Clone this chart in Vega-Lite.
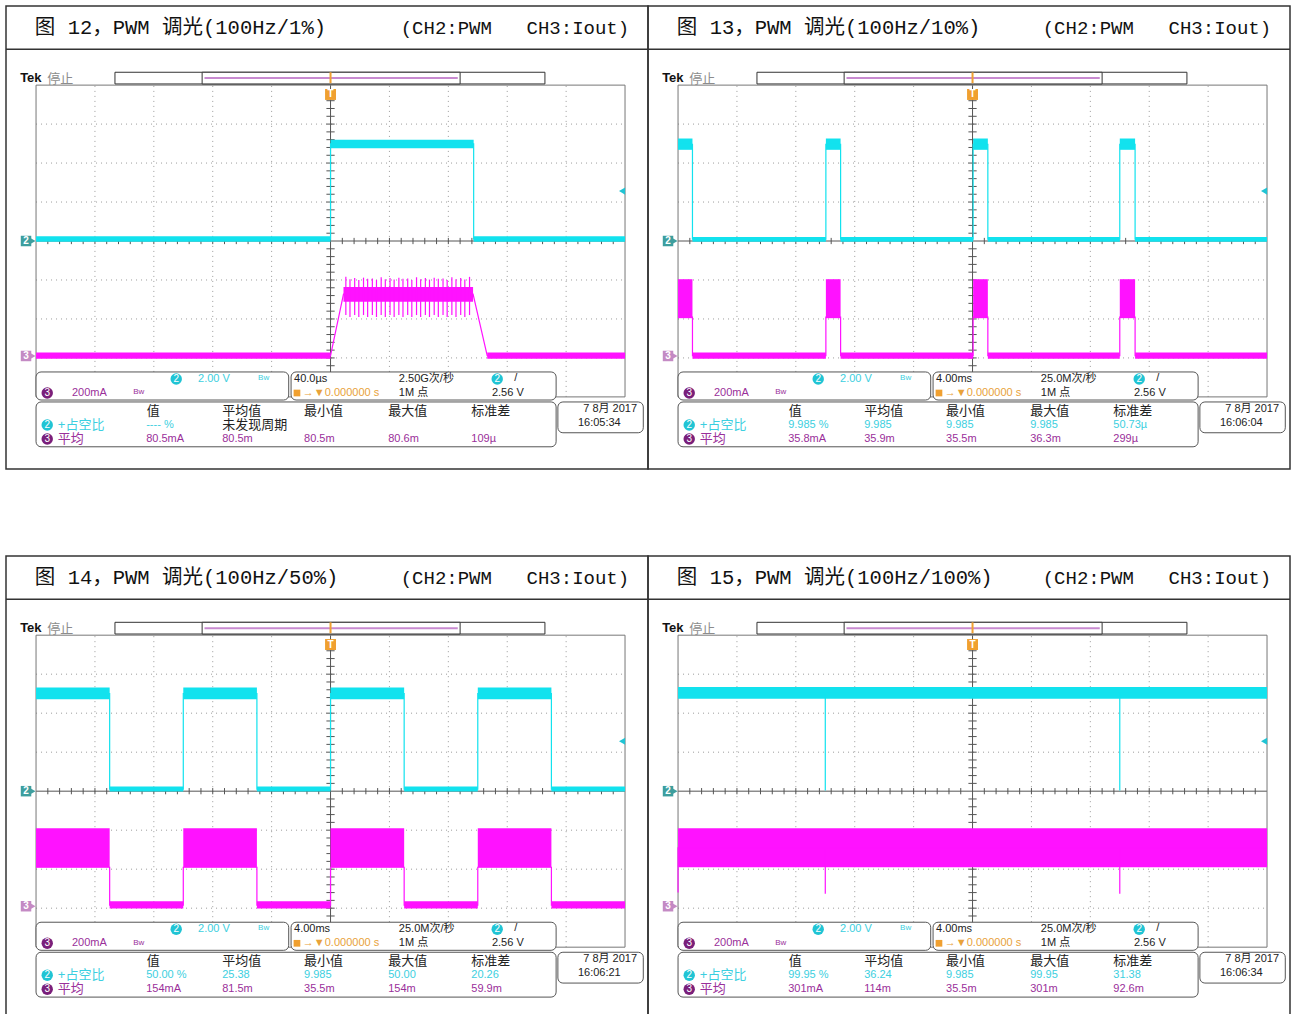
{
"$schema":"https://vega.github.io/schema/vega-lite/v6.json",
"background":"white",
"padding":{"left":4,"top":5,"right":0,"bottom":0},
"config":{"view":{"stroke":"#333333","strokeWidth":1.5},"axis":{"disable":true},"legend":{"disable":true}},
"datasets":{
"vg":[{"x":1},{"x":2},{"x":3},{"x":4},{"x":6},{"x":7},{"x":8},{"x":9}],
"hg":[{"y":-3},{"y":-2},{"y":-1},{"y":1},{"y":2},{"y":3}],
"xt":[{"t":0.2},{"t":0.4},{"t":0.6},{"t":0.8},{"t":1},{"t":1.2},{"t":1.4},{"t":1.6},{"t":1.8},{"t":2},{"t":2.2},{"t":2.4},{"t":2.6},{"t":2.8},{"t":3},{"t":3.2},{"t":3.4},{"t":3.6},{"t":3.8},{"t":4},{"t":4.2},{"t":4.4},{"t":4.6},{"t":4.8},{"t":5.2},{"t":5.4},{"t":5.6},{"t":5.8},{"t":6},{"t":6.2},{"t":6.4},{"t":6.6},{"t":6.8},{"t":7},{"t":7.2},{"t":7.4},{"t":7.6},{"t":7.8},{"t":8},{"t":8.2},{"t":8.4},{"t":8.6},{"t":8.8},{"t":9},{"t":9.2},{"t":9.4},{"t":9.6},{"t":9.8}],
"yt":[{"t":-3.8},{"t":-3.6},{"t":-3.4},{"t":-3.2},{"t":-3},{"t":-2.8},{"t":-2.6},{"t":-2.4},{"t":-2.2},{"t":-2},{"t":-1.8},{"t":-1.6},{"t":-1.4},{"t":-1.2},{"t":-1},{"t":-0.8},{"t":-0.6},{"t":-0.4},{"t":-0.2},{"t":0.2},{"t":0.4},{"t":0.6},{"t":0.8},{"t":1},{"t":1.2},{"t":1.4},{"t":1.6},{"t":1.8},{"t":2},{"t":2.2},{"t":2.4},{"t":2.6},{"t":2.8},{"t":3},{"t":3.2},{"t":3.4},{"t":3.6},{"t":3.8}],
"tbar":[{"x":1.34,"x2":8.64,"y":4.03,"y2":4.33},{"x":2.82,"x2":7.2,"y":4.03,"y2":4.33}],
"mk":[{"x":-0.17,"xa":-0.06,"y":0,"t":"2","c":"m2"},{"x":-0.17,"xa":-0.06,"y":-2.95,"t":"3","c":"m3"}],
"boxes":[{"x":0,"x2":4.29,"y":-3.36,"y2":-4.08},{"x":4.33,"x2":8.83,"y":-3.36,"y2":-4.08},{"x":0,"x2":8.83,"y":-4.13,"y2":-5.28},{"x":8.86,"x2":10.31,"y":-4.13,"y2":-4.92}],
"badges":[{"x":2.38,"y":-3.54,"t":"2","c":"b2"},{"x":0.19,"y":-3.9,"t":"3","c":"b3"},{"x":7.83,"y":-3.54,"t":"2","c":"b2"},{"x":0.19,"y":-4.72,"t":"2","c":"b2"},{"x":0.19,"y":-5.08,"t":"3","c":"b3"}],
"bands":[
{"p":"12","ch":"w2","x":0,"x2":5,"y":-0.02,"y2":0.12},
{"p":"12","ch":"w2","x":7.43,"x2":10,"y":-0.02,"y2":0.12},
{"p":"12","ch":"w2","x":5,"x2":7.43,"y":2.38,"y2":2.6},
{"p":"12","ch":"w3","x":0,"x2":5,"y":-3.02,"y2":-2.86},
{"p":"12","ch":"w3","x":7.66,"x2":10,"y":-3.02,"y2":-2.86},
{"p":"12","ch":"w3","x":5.22,"x2":7.42,"y":-1.56,"y2":-1.18},
{"p":"13","ch":"w2","x":0,"x2":0.245,"y":2.34,"y2":2.63},
{"p":"13","ch":"w2","x":2.51,"x2":2.76,"y":2.34,"y2":2.63},
{"p":"13","ch":"w2","x":5.01,"x2":5.26,"y":2.34,"y2":2.63},
{"p":"13","ch":"w2","x":7.5,"x2":7.76,"y":2.34,"y2":2.63},
{"p":"13","ch":"w2","x":0.245,"x2":2.51,"y":-0.02,"y2":0.1},
{"p":"13","ch":"w2","x":2.76,"x2":5.01,"y":-0.02,"y2":0.1},
{"p":"13","ch":"w2","x":5.26,"x2":7.5,"y":-0.02,"y2":0.1},
{"p":"13","ch":"w2","x":7.76,"x2":10,"y":-0.02,"y2":0.1},
{"p":"13","ch":"w3","x":0,"x2":0.245,"y":-1.98,"y2":-0.98},
{"p":"13","ch":"w3","x":2.51,"x2":2.76,"y":-1.98,"y2":-0.98},
{"p":"13","ch":"w3","x":5.01,"x2":5.26,"y":-1.98,"y2":-0.98},
{"p":"13","ch":"w3","x":7.5,"x2":7.76,"y":-1.98,"y2":-0.98},
{"p":"13","ch":"w3","x":0.245,"x2":2.51,"y":-3.02,"y2":-2.86},
{"p":"13","ch":"w3","x":2.76,"x2":5.01,"y":-3.02,"y2":-2.86},
{"p":"13","ch":"w3","x":5.26,"x2":7.5,"y":-3.02,"y2":-2.86},
{"p":"13","ch":"w3","x":7.76,"x2":10,"y":-3.02,"y2":-2.86},
{"p":"14","ch":"w2","x":0,"x2":1.25,"y":2.36,"y2":2.66},
{"p":"14","ch":"w2","x":2.5,"x2":3.75,"y":2.36,"y2":2.66},
{"p":"14","ch":"w2","x":5,"x2":6.25,"y":2.36,"y2":2.66},
{"p":"14","ch":"w2","x":7.5,"x2":8.75,"y":2.36,"y2":2.66},
{"p":"14","ch":"w2","x":1.25,"x2":2.5,"y":-0.01,"y2":0.12},
{"p":"14","ch":"w2","x":3.75,"x2":5,"y":-0.01,"y2":0.12},
{"p":"14","ch":"w2","x":6.25,"x2":7.5,"y":-0.01,"y2":0.12},
{"p":"14","ch":"w2","x":8.75,"x2":10,"y":-0.01,"y2":0.12},
{"p":"14","ch":"w3","x":0,"x2":1.25,"y":-1.95,"y2":-0.95},
{"p":"14","ch":"w3","x":2.5,"x2":3.75,"y":-1.95,"y2":-0.95},
{"p":"14","ch":"w3","x":5,"x2":6.25,"y":-1.95,"y2":-0.95},
{"p":"14","ch":"w3","x":7.5,"x2":8.75,"y":-1.95,"y2":-0.95},
{"p":"14","ch":"w3","x":1.25,"x2":2.5,"y":-3.01,"y2":-2.82},
{"p":"14","ch":"w3","x":3.75,"x2":5,"y":-3.01,"y2":-2.82},
{"p":"14","ch":"w3","x":6.25,"x2":7.5,"y":-3.01,"y2":-2.82},
{"p":"14","ch":"w3","x":8.75,"x2":10,"y":-3.01,"y2":-2.82},
{"p":"15","ch":"w2","x":0,"x2":10,"y":2.37,"y2":2.67},
{"p":"15","ch":"w3","x":0,"x2":10,"y":-1.95,"y2":-0.95}
],
"tr":[
{"p":"12","ch":"w2","i":1,"x":0,"y":0.05},{"p":"12","ch":"w2","i":2,"x":5,"y":0.05},{"p":"12","ch":"w2","i":3,"x":5,"y":2.49},{"p":"12","ch":"w2","i":4,"x":7.43,"y":2.49},{"p":"12","ch":"w2","i":5,"x":7.43,"y":0.05},{"p":"12","ch":"w2","i":6,"x":10,"y":0.05},
{"p":"12","ch":"w3","i":1,"x":0,"y":-2.94},{"p":"12","ch":"w3","i":2,"x":5,"y":-2.94},{"p":"12","ch":"w3","i":3,"x":5.22,"y":-1.36},{"p":"12","ch":"w3","i":4,"x":7.42,"y":-1.36},{"p":"12","ch":"w3","i":5,"x":7.66,"y":-2.94},{"p":"12","ch":"w3","i":6,"x":10,"y":-2.94},
{"p":"13","ch":"w2","i":1,"x":0,"y":2.48},{"p":"13","ch":"w2","i":2,"x":0.245,"y":2.48},{"p":"13","ch":"w2","i":3,"x":0.245,"y":0.05},{"p":"13","ch":"w2","i":4,"x":2.51,"y":0.05},{"p":"13","ch":"w2","i":5,"x":2.51,"y":2.48},{"p":"13","ch":"w2","i":6,"x":2.76,"y":2.48},{"p":"13","ch":"w2","i":7,"x":2.76,"y":0.05},{"p":"13","ch":"w2","i":8,"x":5.01,"y":0.05},{"p":"13","ch":"w2","i":9,"x":5.01,"y":2.48},{"p":"13","ch":"w2","i":10,"x":5.26,"y":2.48},{"p":"13","ch":"w2","i":11,"x":5.26,"y":0.05},{"p":"13","ch":"w2","i":12,"x":7.5,"y":0.05},{"p":"13","ch":"w2","i":13,"x":7.5,"y":2.48},{"p":"13","ch":"w2","i":14,"x":7.76,"y":2.48},{"p":"13","ch":"w2","i":15,"x":7.76,"y":0.05},{"p":"13","ch":"w2","i":16,"x":10,"y":0.05},
{"p":"13","ch":"w3","i":1,"x":0,"y":-1.95},{"p":"13","ch":"w3","i":2,"x":0.245,"y":-1.95},{"p":"13","ch":"w3","i":3,"x":0.245,"y":-2.94},{"p":"13","ch":"w3","i":4,"x":2.51,"y":-2.94},{"p":"13","ch":"w3","i":5,"x":2.51,"y":-1.95},{"p":"13","ch":"w3","i":6,"x":2.76,"y":-1.95},{"p":"13","ch":"w3","i":7,"x":2.76,"y":-2.94},{"p":"13","ch":"w3","i":8,"x":5.01,"y":-2.94},{"p":"13","ch":"w3","i":9,"x":5.01,"y":-1.95},{"p":"13","ch":"w3","i":10,"x":5.26,"y":-1.95},{"p":"13","ch":"w3","i":11,"x":5.26,"y":-2.94},{"p":"13","ch":"w3","i":12,"x":7.5,"y":-2.94},{"p":"13","ch":"w3","i":13,"x":7.5,"y":-1.95},{"p":"13","ch":"w3","i":14,"x":7.76,"y":-1.95},{"p":"13","ch":"w3","i":15,"x":7.76,"y":-2.94},{"p":"13","ch":"w3","i":16,"x":10,"y":-2.94},
{"p":"14","ch":"w2","i":1,"x":0,"y":2.5},{"p":"14","ch":"w2","i":2,"x":1.25,"y":2.5},{"p":"14","ch":"w2","i":3,"x":1.25,"y":0.05},{"p":"14","ch":"w2","i":4,"x":2.5,"y":0.05},{"p":"14","ch":"w2","i":5,"x":2.5,"y":2.5},{"p":"14","ch":"w2","i":6,"x":3.75,"y":2.5},{"p":"14","ch":"w2","i":7,"x":3.75,"y":0.05},{"p":"14","ch":"w2","i":8,"x":5,"y":0.05},{"p":"14","ch":"w2","i":9,"x":5,"y":2.5},{"p":"14","ch":"w2","i":10,"x":6.25,"y":2.5},{"p":"14","ch":"w2","i":11,"x":6.25,"y":0.05},{"p":"14","ch":"w2","i":12,"x":7.5,"y":0.05},{"p":"14","ch":"w2","i":13,"x":7.5,"y":2.5},{"p":"14","ch":"w2","i":14,"x":8.75,"y":2.5},{"p":"14","ch":"w2","i":15,"x":8.75,"y":0.05},{"p":"14","ch":"w2","i":16,"x":10,"y":0.05},
{"p":"14","ch":"w3","i":1,"x":0,"y":-1.95},{"p":"14","ch":"w3","i":2,"x":1.25,"y":-1.95},{"p":"14","ch":"w3","i":3,"x":1.25,"y":-2.92},{"p":"14","ch":"w3","i":4,"x":2.5,"y":-2.92},{"p":"14","ch":"w3","i":5,"x":2.5,"y":-1.95},{"p":"14","ch":"w3","i":6,"x":3.75,"y":-1.95},{"p":"14","ch":"w3","i":7,"x":3.75,"y":-2.92},{"p":"14","ch":"w3","i":8,"x":5,"y":-2.92},{"p":"14","ch":"w3","i":9,"x":5,"y":-1.95},{"p":"14","ch":"w3","i":10,"x":6.25,"y":-1.95},{"p":"14","ch":"w3","i":11,"x":6.25,"y":-2.92},{"p":"14","ch":"w3","i":12,"x":7.5,"y":-2.92},{"p":"14","ch":"w3","i":13,"x":7.5,"y":-1.95},{"p":"14","ch":"w3","i":14,"x":8.75,"y":-1.95},{"p":"14","ch":"w3","i":15,"x":8.75,"y":-2.92},{"p":"14","ch":"w3","i":16,"x":10,"y":-2.92},
{"p":"15","ch":"w2","i":1,"x":0,"y":2.52},{"p":"15","ch":"w2","i":2,"x":2.5,"y":2.52},{"p":"15","ch":"w2","i":3,"x":2.5,"y":0.02},{"p":"15","ch":"w2","i":4,"x":2.5,"y":2.52},{"p":"15","ch":"w2","i":5,"x":7.5,"y":2.52},{"p":"15","ch":"w2","i":6,"x":7.5,"y":0.02},{"p":"15","ch":"w2","i":7,"x":7.5,"y":2.52},{"p":"15","ch":"w2","i":8,"x":10,"y":2.52},
{"p":"15","ch":"w3","i":1,"x":0,"y":-2.6},{"p":"15","ch":"w3","i":2,"x":0,"y":-1.45},{"p":"15","ch":"w3","i":3,"x":2.5,"y":-1.45},{"p":"15","ch":"w3","i":4,"x":2.5,"y":-2.63},{"p":"15","ch":"w3","i":5,"x":2.5,"y":-1.45},{"p":"15","ch":"w3","i":6,"x":7.5,"y":-1.45},{"p":"15","ch":"w3","i":7,"x":7.5,"y":-2.63},{"p":"15","ch":"w3","i":8,"x":7.5,"y":-1.45},{"p":"15","ch":"w3","i":9,"x":10,"y":-1.45}
],
"sp":[{"x":5.26,"y":-1.9,"y2":-0.92},{"x":5.33,"y":-1.95,"y2":-0.98},{"x":5.41,"y":-1.9,"y2":-0.95},{"x":5.48,"y":-1.95,"y2":-1.0},{"x":5.56,"y":-1.9,"y2":-0.94},{"x":5.63,"y":-1.95,"y2":-0.97},{"x":5.71,"y":-1.9,"y2":-0.96},{"x":5.78,"y":-1.95,"y2":-1.0},{"x":5.86,"y":-1.9,"y2":-0.93},{"x":5.93,"y":-1.95,"y2":-0.98},{"x":6.01,"y":-1.9,"y2":-0.95},{"x":6.08,"y":-1.95,"y2":-0.99},{"x":6.16,"y":-1.9,"y2":-0.94},{"x":6.23,"y":-1.95,"y2":-0.97},{"x":6.31,"y":-1.9,"y2":-0.96},{"x":6.38,"y":-1.95,"y2":-1.0},{"x":6.46,"y":-1.9,"y2":-0.93},{"x":6.53,"y":-1.95,"y2":-0.98},{"x":6.61,"y":-1.9,"y2":-0.95},{"x":6.68,"y":-1.95,"y2":-0.99},{"x":6.76,"y":-1.9,"y2":-0.94},{"x":6.83,"y":-1.95,"y2":-0.97},{"x":6.91,"y":-1.9,"y2":-0.96},{"x":6.98,"y":-1.95,"y2":-1.0},{"x":7.06,"y":-1.9,"y2":-0.93},{"x":7.13,"y":-1.95,"y2":-0.98},{"x":7.21,"y":-1.9,"y2":-0.95},{"x":7.28,"y":-1.95,"y2":-0.99},{"x":7.36,"y":-1.9,"y2":-0.92}],
"tx":[
{"p":"all","r":"tek","x":-0.27,"y":4.18,"t":"Tek","c":"k"},
{"p":"all","r":"h","x":0.19,"y":4.16,"t":"停止","c":"g"},
{"p":"all","r":"tr","x":7.74,"y":5.46,"t":"(CH2:PWM","c":"k"},
{"p":"all","r":"tr","x":10.07,"y":5.46,"t":"CH3:Iout)","c":"k"},
{"p":"all","r":"v","x":2.75,"y":-3.54,"t":"2.00 V","c":"c2"},
{"p":"all","r":"s","x":3.77,"y":-3.52,"t":"Bw","c":"c2"},
{"p":"all","r":"v","x":0.61,"y":-3.9,"t":"200mA","c":"c3"},
{"p":"all","r":"s","x":1.65,"y":-3.88,"t":"Bw","c":"c3"},
{"p":"all","r":"v","x":8.12,"y":-3.52,"t":"/","c":"k"},
{"p":"all","r":"v","x":4.53,"y":-3.9,"t":"→▼0.000000 s","c":"or"},
{"p":"all","r":"v","x":6.16,"y":-3.9,"t":"1M 点","c":"k"},
{"p":"all","r":"v","x":7.74,"y":-3.9,"t":"2.56 V","c":"k"},
{"p":"all","r":"h","x":1.88,"y":-4.36,"t":"值","c":"k"},
{"p":"all","r":"h","x":3.16,"y":-4.36,"t":"平均值","c":"k"},
{"p":"all","r":"h","x":4.55,"y":-4.36,"t":"最小值","c":"k"},
{"p":"all","r":"h","x":5.98,"y":-4.36,"t":"最大值","c":"k"},
{"p":"all","r":"h","x":7.39,"y":-4.36,"t":"标准差","c":"k"},
{"p":"all","r":"h","x":0.37,"y":-4.72,"t":"+占空比","c":"c2"},
{"p":"all","r":"h","x":0.37,"y":-5.08,"t":"平均","c":"c3"},
{"p":"all","r":"v","x":9.29,"y":-4.31,"t":"7 8月 2017","c":"k"},
{"p":"12","r":"t","x":-0.02,"y":5.46,"t":"图 12，PWM 调光(100Hz/1%)","c":"k"},
{"p":"12","r":"v","x":4.38,"y":-3.54,"t":"40.0µs","c":"k"},
{"p":"12","r":"v","x":6.16,"y":-3.54,"t":"2.50G次/秒","c":"k"},
{"p":"12","r":"v","x":1.87,"y":-4.72,"t":"---- %","c":"c2"},
{"p":"12","r":"h","x":3.16,"y":-4.72,"t":"未发现周期","c":"k"},
{"p":"12","r":"v","x":1.87,"y":-5.08,"t":"80.5mA","c":"c3"},
{"p":"12","r":"v","x":3.16,"y":-5.08,"t":"80.5m","c":"c3"},
{"p":"12","r":"v","x":4.55,"y":-5.08,"t":"80.5m","c":"c3"},
{"p":"12","r":"v","x":5.98,"y":-5.08,"t":"80.6m","c":"c3"},
{"p":"12","r":"v","x":7.39,"y":-5.08,"t":"109µ","c":"c3"},
{"p":"12","r":"v","x":9.2,"y":-4.67,"t":"16:05:34","c":"k"},
{"p":"13","r":"t","x":-0.02,"y":5.46,"t":"图 13，PWM 调光(100Hz/10%)","c":"k"},
{"p":"13","r":"v","x":4.38,"y":-3.54,"t":"4.00ms","c":"k"},
{"p":"13","r":"v","x":6.16,"y":-3.54,"t":"25.0M次/秒","c":"k"},
{"p":"13","r":"v","x":1.87,"y":-4.72,"t":"9.985 %","c":"c2"},
{"p":"13","r":"v","x":3.16,"y":-4.72,"t":"9.985","c":"c2"},
{"p":"13","r":"v","x":4.55,"y":-4.72,"t":"9.985","c":"c2"},
{"p":"13","r":"v","x":5.98,"y":-4.72,"t":"9.985","c":"c2"},
{"p":"13","r":"v","x":7.39,"y":-4.72,"t":"50.73µ","c":"c2"},
{"p":"13","r":"v","x":1.87,"y":-5.08,"t":"35.8mA","c":"c3"},
{"p":"13","r":"v","x":3.16,"y":-5.08,"t":"35.9m","c":"c3"},
{"p":"13","r":"v","x":4.55,"y":-5.08,"t":"35.5m","c":"c3"},
{"p":"13","r":"v","x":5.98,"y":-5.08,"t":"36.3m","c":"c3"},
{"p":"13","r":"v","x":7.39,"y":-5.08,"t":"299µ","c":"c3"},
{"p":"13","r":"v","x":9.2,"y":-4.67,"t":"16:06:04","c":"k"},
{"p":"14","r":"t","x":-0.02,"y":5.46,"t":"图 14，PWM 调光(100Hz/50%)","c":"k"},
{"p":"14","r":"v","x":4.38,"y":-3.54,"t":"4.00ms","c":"k"},
{"p":"14","r":"v","x":6.16,"y":-3.54,"t":"25.0M次/秒","c":"k"},
{"p":"14","r":"v","x":1.87,"y":-4.72,"t":"50.00 %","c":"c2"},
{"p":"14","r":"v","x":3.16,"y":-4.72,"t":"25.38","c":"c2"},
{"p":"14","r":"v","x":4.55,"y":-4.72,"t":"9.985","c":"c2"},
{"p":"14","r":"v","x":5.98,"y":-4.72,"t":"50.00","c":"c2"},
{"p":"14","r":"v","x":7.39,"y":-4.72,"t":"20.26","c":"c2"},
{"p":"14","r":"v","x":1.87,"y":-5.08,"t":"154mA","c":"c3"},
{"p":"14","r":"v","x":3.16,"y":-5.08,"t":"81.5m","c":"c3"},
{"p":"14","r":"v","x":4.55,"y":-5.08,"t":"35.5m","c":"c3"},
{"p":"14","r":"v","x":5.98,"y":-5.08,"t":"154m","c":"c3"},
{"p":"14","r":"v","x":7.39,"y":-5.08,"t":"59.9m","c":"c3"},
{"p":"14","r":"v","x":9.2,"y":-4.67,"t":"16:06:21","c":"k"},
{"p":"15","r":"t","x":-0.02,"y":5.46,"t":"图 15，PWM 调光(100Hz/100%)","c":"k"},
{"p":"15","r":"v","x":4.38,"y":-3.54,"t":"4.00ms","c":"k"},
{"p":"15","r":"v","x":6.16,"y":-3.54,"t":"25.0M次/秒","c":"k"},
{"p":"15","r":"v","x":1.87,"y":-4.72,"t":"99.95 %","c":"c2"},
{"p":"15","r":"v","x":3.16,"y":-4.72,"t":"36.24","c":"c2"},
{"p":"15","r":"v","x":4.55,"y":-4.72,"t":"9.985","c":"c2"},
{"p":"15","r":"v","x":5.98,"y":-4.72,"t":"99.95","c":"c2"},
{"p":"15","r":"v","x":7.39,"y":-4.72,"t":"31.38","c":"c2"},
{"p":"15","r":"v","x":1.87,"y":-5.08,"t":"301mA","c":"c3"},
{"p":"15","r":"v","x":3.16,"y":-5.08,"t":"114m","c":"c3"},
{"p":"15","r":"v","x":4.55,"y":-5.08,"t":"35.5m","c":"c3"},
{"p":"15","r":"v","x":5.98,"y":-5.08,"t":"301m","c":"c3"},
{"p":"15","r":"v","x":7.39,"y":-5.08,"t":"92.6m","c":"c3"},
{"p":"15","r":"v","x":9.2,"y":-4.67,"t":"16:06:34","c":"k"}
]
},
"spacing":85,
"vconcat":[
{"spacing":0,"bounds":"flush","hconcat":[
{"width":642,"height":463,"layer":[
{"data":{"name":"vg"},"mark":{"type":"rule","color":"#9a9a9a","strokeDash":[1,4]},"encoding":{"x":{"field":"x","type":"quantitative","scale":{"domain":[-0.51,10.39],"nice":false,"zero":false}},"y":{"datum":-4,"scale":{"domain":[-5.85,6.03],"nice":false,"zero":false}},"y2":{"datum":4}}},
{"data":{"name":"hg"},"mark":{"type":"rule","color":"#9a9a9a","strokeDash":[1,4]},"encoding":{"y":{"field":"y","type":"quantitative"},"x":{"datum":0},"x2":{"datum":10}}},
{"data":{"name":"xt"},"mark":{"type":"rule","color":"#555555"},"encoding":{"x":{"field":"t","type":"quantitative"},"y":{"datum":-0.08},"y2":{"datum":0.08}}},
{"data":{"name":"yt"},"mark":{"type":"rule","color":"#555555"},"encoding":{"y":{"field":"t","type":"quantitative"},"x":{"datum":4.93},"x2":{"datum":5.07}}},
{"data":{"values":[{}]},"mark":{"type":"rule","color":"#555555"},"encoding":{"x":{"datum":5},"y":{"datum":-4},"y2":{"datum":4}}},
{"data":{"values":[{}]},"mark":{"type":"rule","color":"#555555"},"encoding":{"y":{"datum":0},"x":{"datum":0},"x2":{"datum":10}}},
{"data":{"values":[{}]},"mark":{"type":"rect","fillOpacity":0,"stroke":"#777777","strokeWidth":1},"encoding":{"x":{"datum":0},"x2":{"datum":10},"y":{"datum":-4},"y2":{"datum":4}}},
{"data":{"values":[{}]},"mark":{"type":"rule","color":"#333333","strokeWidth":1.5},"encoding":{"y":{"datum":4.92},"x":{"datum":-0.51},"x2":{"datum":10.39}}},
{"data":{"name":"bands"},"transform":[{"filter":"datum.p=='12'"}],"mark":{"type":"rect"},"encoding":{"x":{"field":"x","type":"quantitative"},"x2":{"field":"x2"},"y":{"field":"y","type":"quantitative"},"y2":{"field":"y2"},"color":{"field":"ch","type":"nominal","scale":{"domain":["k","g","c2","c3","or","b2","b3","m2","m3","w2","w3"],"range":["#222222","#8c8c8c","#3ccfe0","#9a2f9a","#e8a23a","#20c4d4","#7a1f7a","#3e9e9e","#c48ac4","#12e2ee","#ff12ff"]}}}},
{"data":{"name":"tr"},"transform":[{"filter":"datum.p=='12'"}],"mark":{"type":"line","strokeWidth":1.2},"encoding":{"x":{"field":"x","type":"quantitative"},"y":{"field":"y","type":"quantitative"},"detail":{"field":"ch"},"order":{"field":"i","type":"quantitative"},"color":{"field":"ch","type":"nominal","scale":{"domain":["k","g","c2","c3","or","b2","b3","m2","m3","w2","w3"],"range":["#222222","#8c8c8c","#3ccfe0","#9a2f9a","#e8a23a","#20c4d4","#7a1f7a","#3e9e9e","#c48ac4","#12e2ee","#ff12ff"]}}}},
{"data":{"name":"sp"},"mark":{"type":"rule","color":"#ff12ff","strokeWidth":1.2},"encoding":{"x":{"field":"x","type":"quantitative"},"y":{"field":"y","type":"quantitative"},"y2":{"field":"y2"}}},
{"data":{"name":"tbar"},"mark":{"type":"rect","fill":"#ffffff","stroke":"#333333","strokeWidth":1},"encoding":{"x":{"field":"x","type":"quantitative"},"x2":{"field":"x2"},"y":{"field":"y","type":"quantitative"},"y2":{"field":"y2"}}},
{"data":{"values":[{}]},"mark":{"type":"rule","color":"#c88ad0","strokeWidth":2},"encoding":{"x":{"datum":2.86},"x2":{"datum":7.16},"y":{"datum":4.18}}},
{"data":{"values":[{}]},"mark":{"type":"rule","color":"#f0a030","strokeWidth":2},"encoding":{"x":{"datum":5},"y":{"datum":4.05},"y2":{"datum":4.33}}},
{"data":{"values":[{}]},"mark":{"type":"point","shape":"square","filled":true,"size":120,"color":"#f0a030","opacity":1},"encoding":{"x":{"datum":5},"y":{"datum":3.76}}},
{"data":{"values":[{}]},"mark":{"type":"text","text":"T","color":"#ffffff","fontWeight":"bold","fontSize":10,"font":"Liberation Sans","align":"center","baseline":"middle"},"encoding":{"x":{"datum":5},"y":{"datum":3.76}}},
{"data":{"name":"mk"},"mark":{"type":"point","shape":"square","filled":true,"size":110,"opacity":1},"encoding":{"x":{"field":"x","type":"quantitative"},"y":{"field":"y","type":"quantitative"},"color":{"field":"c","type":"nominal","scale":{"domain":["k","g","c2","c3","or","b2","b3","m2","m3","w2","w3"],"range":["#222222","#8c8c8c","#3ccfe0","#9a2f9a","#e8a23a","#20c4d4","#7a1f7a","#3e9e9e","#c48ac4","#12e2ee","#ff12ff"]}}}},
{"data":{"name":"mk"},"mark":{"type":"point","shape":"triangle-right","filled":true,"size":50,"opacity":1},"encoding":{"x":{"field":"xa","type":"quantitative"},"y":{"field":"y","type":"quantitative"},"color":{"field":"c","type":"nominal","scale":{"domain":["k","g","c2","c3","or","b2","b3","m2","m3","w2","w3"],"range":["#222222","#8c8c8c","#3ccfe0","#9a2f9a","#e8a23a","#20c4d4","#7a1f7a","#3e9e9e","#c48ac4","#12e2ee","#ff12ff"]}}}},
{"data":{"name":"mk"},"mark":{"type":"text","color":"#ffffff","fontWeight":"bold","fontSize":10,"font":"Liberation Sans","align":"center","baseline":"middle"},"encoding":{"x":{"field":"x","type":"quantitative"},"y":{"field":"y","type":"quantitative"},"text":{"field":"t"}}},
{"data":{"values":[{}]},"mark":{"type":"point","shape":"triangle-left","filled":true,"size":50,"color":"#20c4d4","opacity":1},"encoding":{"x":{"datum":9.95},"y":{"datum":1.28}}},
{"data":{"name":"boxes"},"mark":{"type":"rect","fill":"#ffffff","stroke":"#555555","strokeWidth":1,"cornerRadius":5},"encoding":{"x":{"field":"x","type":"quantitative"},"x2":{"field":"x2"},"y":{"field":"y","type":"quantitative"},"y2":{"field":"y2"}}},
{"data":{"name":"badges"},"mark":{"type":"point","shape":"circle","filled":true,"size":130,"opacity":1},"encoding":{"x":{"field":"x","type":"quantitative"},"y":{"field":"y","type":"quantitative"},"color":{"field":"c","type":"nominal","scale":{"domain":["k","g","c2","c3","or","b2","b3","m2","m3","w2","w3"],"range":["#222222","#8c8c8c","#3ccfe0","#9a2f9a","#e8a23a","#20c4d4","#7a1f7a","#3e9e9e","#c48ac4","#12e2ee","#ff12ff"]}}}},
{"data":{"name":"badges"},"mark":{"type":"text","color":"#ffffff","fontSize":10,"font":"Liberation Sans","align":"center","baseline":"middle"},"encoding":{"x":{"field":"x","type":"quantitative"},"y":{"field":"y","type":"quantitative"},"text":{"field":"t"}}},
{"data":{"values":[{}]},"mark":{"type":"point","shape":"square","filled":true,"size":45,"color":"#f0a030","opacity":1},"encoding":{"x":{"datum":4.43},"y":{"datum":-3.9}}},
{"data":{"name":"tx"},"transform":[{"filter":"(datum.p=='all'||datum.p=='12')&&datum.r=='h'"}],"mark":{"type":"text","font":"Liberation Sans Narrow, Liberation Sans, Noto Sans CJK SC, sans-serif","fontSize":13,"align":"left","baseline":"middle"},"encoding":{"x":{"field":"x","type":"quantitative"},"y":{"field":"y","type":"quantitative"},"text":{"field":"t"},"color":{"field":"c","type":"nominal","scale":{"domain":["k","g","c2","c3","or","b2","b3","m2","m3","w2","w3"],"range":["#222222","#8c8c8c","#3ccfe0","#9a2f9a","#e8a23a","#20c4d4","#7a1f7a","#3e9e9e","#c48ac4","#12e2ee","#ff12ff"]}}}},
{"data":{"name":"tx"},"transform":[{"filter":"(datum.p=='all'||datum.p=='12')&&datum.r=='v'"}],"mark":{"type":"text","font":"Liberation Sans Narrow, Liberation Sans, Noto Sans CJK SC, sans-serif","fontSize":11,"align":"left","baseline":"middle"},"encoding":{"x":{"field":"x","type":"quantitative"},"y":{"field":"y","type":"quantitative"},"text":{"field":"t"},"color":{"field":"c","type":"nominal","scale":{"domain":["k","g","c2","c3","or","b2","b3","m2","m3","w2","w3"],"range":["#222222","#8c8c8c","#3ccfe0","#9a2f9a","#e8a23a","#20c4d4","#7a1f7a","#3e9e9e","#c48ac4","#12e2ee","#ff12ff"]}}}},
{"data":{"name":"tx"},"transform":[{"filter":"(datum.p=='all'||datum.p=='12')&&datum.r=='s'"}],"mark":{"type":"text","font":"Liberation Sans","fontSize":8,"align":"left","baseline":"middle"},"encoding":{"x":{"field":"x","type":"quantitative"},"y":{"field":"y","type":"quantitative"},"text":{"field":"t"},"color":{"field":"c","type":"nominal","scale":{"domain":["k","g","c2","c3","or","b2","b3","m2","m3","w2","w3"],"range":["#222222","#8c8c8c","#3ccfe0","#9a2f9a","#e8a23a","#20c4d4","#7a1f7a","#3e9e9e","#c48ac4","#12e2ee","#ff12ff"]}}}},
{"data":{"name":"tx"},"transform":[{"filter":"(datum.p=='all'||datum.p=='12')&&datum.r=='tek'"}],"mark":{"type":"text","font":"Liberation Sans","fontSize":13,"fontWeight":"bold","align":"left","baseline":"middle","color":"#111111"},"encoding":{"x":{"field":"x","type":"quantitative"},"y":{"field":"y","type":"quantitative"},"text":{"field":"t"}}},
{"data":{"name":"tx"},"transform":[{"filter":"(datum.p=='all'||datum.p=='12')&&datum.r=='t'"}],"mark":{"type":"text","font":"Liberation Mono, Noto Sans CJK SC, monospace","fontSize":20.5,"align":"left","baseline":"middle","color":"#111111"},"encoding":{"x":{"field":"x","type":"quantitative"},"y":{"field":"y","type":"quantitative"},"text":{"field":"t"}}},
{"data":{"name":"tx"},"transform":[{"filter":"(datum.p=='all'||datum.p=='12')&&datum.r=='tr'"}],"mark":{"type":"text","font":"Liberation Mono, Noto Sans CJK SC, monospace","fontSize":19,"align":"right","baseline":"middle","color":"#111111"},"encoding":{"x":{"field":"x","type":"quantitative"},"y":{"field":"y","type":"quantitative"},"text":{"field":"t"}}}
]},
{"width":642,"height":463,"layer":[
{"data":{"name":"vg"},"mark":{"type":"rule","color":"#9a9a9a","strokeDash":[1,4]},"encoding":{"x":{"field":"x","type":"quantitative","scale":{"domain":[-0.51,10.39],"nice":false,"zero":false}},"y":{"datum":-4,"scale":{"domain":[-5.85,6.03],"nice":false,"zero":false}},"y2":{"datum":4}}},
{"data":{"name":"hg"},"mark":{"type":"rule","color":"#9a9a9a","strokeDash":[1,4]},"encoding":{"y":{"field":"y","type":"quantitative"},"x":{"datum":0},"x2":{"datum":10}}},
{"data":{"name":"xt"},"mark":{"type":"rule","color":"#555555"},"encoding":{"x":{"field":"t","type":"quantitative"},"y":{"datum":-0.08},"y2":{"datum":0.08}}},
{"data":{"name":"yt"},"mark":{"type":"rule","color":"#555555"},"encoding":{"y":{"field":"t","type":"quantitative"},"x":{"datum":4.93},"x2":{"datum":5.07}}},
{"data":{"values":[{}]},"mark":{"type":"rule","color":"#555555"},"encoding":{"x":{"datum":5},"y":{"datum":-4},"y2":{"datum":4}}},
{"data":{"values":[{}]},"mark":{"type":"rule","color":"#555555"},"encoding":{"y":{"datum":0},"x":{"datum":0},"x2":{"datum":10}}},
{"data":{"values":[{}]},"mark":{"type":"rect","fillOpacity":0,"stroke":"#777777","strokeWidth":1},"encoding":{"x":{"datum":0},"x2":{"datum":10},"y":{"datum":-4},"y2":{"datum":4}}},
{"data":{"values":[{}]},"mark":{"type":"rule","color":"#333333","strokeWidth":1.5},"encoding":{"y":{"datum":4.92},"x":{"datum":-0.51},"x2":{"datum":10.39}}},
{"data":{"name":"bands"},"transform":[{"filter":"datum.p=='13'"}],"mark":{"type":"rect"},"encoding":{"x":{"field":"x","type":"quantitative"},"x2":{"field":"x2"},"y":{"field":"y","type":"quantitative"},"y2":{"field":"y2"},"color":{"field":"ch","type":"nominal","scale":{"domain":["k","g","c2","c3","or","b2","b3","m2","m3","w2","w3"],"range":["#222222","#8c8c8c","#3ccfe0","#9a2f9a","#e8a23a","#20c4d4","#7a1f7a","#3e9e9e","#c48ac4","#12e2ee","#ff12ff"]}}}},
{"data":{"name":"tr"},"transform":[{"filter":"datum.p=='13'"}],"mark":{"type":"line","strokeWidth":1.2},"encoding":{"x":{"field":"x","type":"quantitative"},"y":{"field":"y","type":"quantitative"},"detail":{"field":"ch"},"order":{"field":"i","type":"quantitative"},"color":{"field":"ch","type":"nominal","scale":{"domain":["k","g","c2","c3","or","b2","b3","m2","m3","w2","w3"],"range":["#222222","#8c8c8c","#3ccfe0","#9a2f9a","#e8a23a","#20c4d4","#7a1f7a","#3e9e9e","#c48ac4","#12e2ee","#ff12ff"]}}}},
{"data":{"name":"tbar"},"mark":{"type":"rect","fill":"#ffffff","stroke":"#333333","strokeWidth":1},"encoding":{"x":{"field":"x","type":"quantitative"},"x2":{"field":"x2"},"y":{"field":"y","type":"quantitative"},"y2":{"field":"y2"}}},
{"data":{"values":[{}]},"mark":{"type":"rule","color":"#c88ad0","strokeWidth":2},"encoding":{"x":{"datum":2.86},"x2":{"datum":7.16},"y":{"datum":4.18}}},
{"data":{"values":[{}]},"mark":{"type":"rule","color":"#f0a030","strokeWidth":2},"encoding":{"x":{"datum":5},"y":{"datum":4.05},"y2":{"datum":4.33}}},
{"data":{"values":[{}]},"mark":{"type":"point","shape":"square","filled":true,"size":120,"color":"#f0a030","opacity":1},"encoding":{"x":{"datum":5},"y":{"datum":3.76}}},
{"data":{"values":[{}]},"mark":{"type":"text","text":"T","color":"#ffffff","fontWeight":"bold","fontSize":10,"font":"Liberation Sans","align":"center","baseline":"middle"},"encoding":{"x":{"datum":5},"y":{"datum":3.76}}},
{"data":{"name":"mk"},"mark":{"type":"point","shape":"square","filled":true,"size":110,"opacity":1},"encoding":{"x":{"field":"x","type":"quantitative"},"y":{"field":"y","type":"quantitative"},"color":{"field":"c","type":"nominal","scale":{"domain":["k","g","c2","c3","or","b2","b3","m2","m3","w2","w3"],"range":["#222222","#8c8c8c","#3ccfe0","#9a2f9a","#e8a23a","#20c4d4","#7a1f7a","#3e9e9e","#c48ac4","#12e2ee","#ff12ff"]}}}},
{"data":{"name":"mk"},"mark":{"type":"point","shape":"triangle-right","filled":true,"size":50,"opacity":1},"encoding":{"x":{"field":"xa","type":"quantitative"},"y":{"field":"y","type":"quantitative"},"color":{"field":"c","type":"nominal","scale":{"domain":["k","g","c2","c3","or","b2","b3","m2","m3","w2","w3"],"range":["#222222","#8c8c8c","#3ccfe0","#9a2f9a","#e8a23a","#20c4d4","#7a1f7a","#3e9e9e","#c48ac4","#12e2ee","#ff12ff"]}}}},
{"data":{"name":"mk"},"mark":{"type":"text","color":"#ffffff","fontWeight":"bold","fontSize":10,"font":"Liberation Sans","align":"center","baseline":"middle"},"encoding":{"x":{"field":"x","type":"quantitative"},"y":{"field":"y","type":"quantitative"},"text":{"field":"t"}}},
{"data":{"values":[{}]},"mark":{"type":"point","shape":"triangle-left","filled":true,"size":50,"color":"#20c4d4","opacity":1},"encoding":{"x":{"datum":9.95},"y":{"datum":1.28}}},
{"data":{"name":"boxes"},"mark":{"type":"rect","fill":"#ffffff","stroke":"#555555","strokeWidth":1,"cornerRadius":5},"encoding":{"x":{"field":"x","type":"quantitative"},"x2":{"field":"x2"},"y":{"field":"y","type":"quantitative"},"y2":{"field":"y2"}}},
{"data":{"name":"badges"},"mark":{"type":"point","shape":"circle","filled":true,"size":130,"opacity":1},"encoding":{"x":{"field":"x","type":"quantitative"},"y":{"field":"y","type":"quantitative"},"color":{"field":"c","type":"nominal","scale":{"domain":["k","g","c2","c3","or","b2","b3","m2","m3","w2","w3"],"range":["#222222","#8c8c8c","#3ccfe0","#9a2f9a","#e8a23a","#20c4d4","#7a1f7a","#3e9e9e","#c48ac4","#12e2ee","#ff12ff"]}}}},
{"data":{"name":"badges"},"mark":{"type":"text","color":"#ffffff","fontSize":10,"font":"Liberation Sans","align":"center","baseline":"middle"},"encoding":{"x":{"field":"x","type":"quantitative"},"y":{"field":"y","type":"quantitative"},"text":{"field":"t"}}},
{"data":{"values":[{}]},"mark":{"type":"point","shape":"square","filled":true,"size":45,"color":"#f0a030","opacity":1},"encoding":{"x":{"datum":4.43},"y":{"datum":-3.9}}},
{"data":{"name":"tx"},"transform":[{"filter":"(datum.p=='all'||datum.p=='13')&&datum.r=='h'"}],"mark":{"type":"text","font":"Liberation Sans Narrow, Liberation Sans, Noto Sans CJK SC, sans-serif","fontSize":13,"align":"left","baseline":"middle"},"encoding":{"x":{"field":"x","type":"quantitative"},"y":{"field":"y","type":"quantitative"},"text":{"field":"t"},"color":{"field":"c","type":"nominal","scale":{"domain":["k","g","c2","c3","or","b2","b3","m2","m3","w2","w3"],"range":["#222222","#8c8c8c","#3ccfe0","#9a2f9a","#e8a23a","#20c4d4","#7a1f7a","#3e9e9e","#c48ac4","#12e2ee","#ff12ff"]}}}},
{"data":{"name":"tx"},"transform":[{"filter":"(datum.p=='all'||datum.p=='13')&&datum.r=='v'"}],"mark":{"type":"text","font":"Liberation Sans Narrow, Liberation Sans, Noto Sans CJK SC, sans-serif","fontSize":11,"align":"left","baseline":"middle"},"encoding":{"x":{"field":"x","type":"quantitative"},"y":{"field":"y","type":"quantitative"},"text":{"field":"t"},"color":{"field":"c","type":"nominal","scale":{"domain":["k","g","c2","c3","or","b2","b3","m2","m3","w2","w3"],"range":["#222222","#8c8c8c","#3ccfe0","#9a2f9a","#e8a23a","#20c4d4","#7a1f7a","#3e9e9e","#c48ac4","#12e2ee","#ff12ff"]}}}},
{"data":{"name":"tx"},"transform":[{"filter":"(datum.p=='all'||datum.p=='13')&&datum.r=='s'"}],"mark":{"type":"text","font":"Liberation Sans","fontSize":8,"align":"left","baseline":"middle"},"encoding":{"x":{"field":"x","type":"quantitative"},"y":{"field":"y","type":"quantitative"},"text":{"field":"t"},"color":{"field":"c","type":"nominal","scale":{"domain":["k","g","c2","c3","or","b2","b3","m2","m3","w2","w3"],"range":["#222222","#8c8c8c","#3ccfe0","#9a2f9a","#e8a23a","#20c4d4","#7a1f7a","#3e9e9e","#c48ac4","#12e2ee","#ff12ff"]}}}},
{"data":{"name":"tx"},"transform":[{"filter":"(datum.p=='all'||datum.p=='13')&&datum.r=='tek'"}],"mark":{"type":"text","font":"Liberation Sans","fontSize":13,"fontWeight":"bold","align":"left","baseline":"middle","color":"#111111"},"encoding":{"x":{"field":"x","type":"quantitative"},"y":{"field":"y","type":"quantitative"},"text":{"field":"t"}}},
{"data":{"name":"tx"},"transform":[{"filter":"(datum.p=='all'||datum.p=='13')&&datum.r=='t'"}],"mark":{"type":"text","font":"Liberation Mono, Noto Sans CJK SC, monospace","fontSize":20.5,"align":"left","baseline":"middle","color":"#111111"},"encoding":{"x":{"field":"x","type":"quantitative"},"y":{"field":"y","type":"quantitative"},"text":{"field":"t"}}},
{"data":{"name":"tx"},"transform":[{"filter":"(datum.p=='all'||datum.p=='13')&&datum.r=='tr'"}],"mark":{"type":"text","font":"Liberation Mono, Noto Sans CJK SC, monospace","fontSize":19,"align":"right","baseline":"middle","color":"#111111"},"encoding":{"x":{"field":"x","type":"quantitative"},"y":{"field":"y","type":"quantitative"},"text":{"field":"t"}}}
]}
]},
{"spacing":0,"bounds":"flush","hconcat":[
{"width":642,"height":461,"layer":[
{"data":{"name":"vg"},"mark":{"type":"rule","color":"#9a9a9a","strokeDash":[1,4]},"encoding":{"x":{"field":"x","type":"quantitative","scale":{"domain":[-0.51,10.39],"nice":false,"zero":false}},"y":{"datum":-4,"scale":{"domain":[-5.79,6.03],"nice":false,"zero":false}},"y2":{"datum":4}}},
{"data":{"name":"hg"},"mark":{"type":"rule","color":"#9a9a9a","strokeDash":[1,4]},"encoding":{"y":{"field":"y","type":"quantitative"},"x":{"datum":0},"x2":{"datum":10}}},
{"data":{"name":"xt"},"mark":{"type":"rule","color":"#555555"},"encoding":{"x":{"field":"t","type":"quantitative"},"y":{"datum":-0.08},"y2":{"datum":0.08}}},
{"data":{"name":"yt"},"mark":{"type":"rule","color":"#555555"},"encoding":{"y":{"field":"t","type":"quantitative"},"x":{"datum":4.93},"x2":{"datum":5.07}}},
{"data":{"values":[{}]},"mark":{"type":"rule","color":"#555555"},"encoding":{"x":{"datum":5},"y":{"datum":-4},"y2":{"datum":4}}},
{"data":{"values":[{}]},"mark":{"type":"rule","color":"#555555"},"encoding":{"y":{"datum":0},"x":{"datum":0},"x2":{"datum":10}}},
{"data":{"values":[{}]},"mark":{"type":"rect","fillOpacity":0,"stroke":"#777777","strokeWidth":1},"encoding":{"x":{"datum":0},"x2":{"datum":10},"y":{"datum":-4},"y2":{"datum":4}}},
{"data":{"values":[{}]},"mark":{"type":"rule","color":"#333333","strokeWidth":1.5},"encoding":{"y":{"datum":4.92},"x":{"datum":-0.51},"x2":{"datum":10.39}}},
{"data":{"name":"bands"},"transform":[{"filter":"datum.p=='14'"}],"mark":{"type":"rect"},"encoding":{"x":{"field":"x","type":"quantitative"},"x2":{"field":"x2"},"y":{"field":"y","type":"quantitative"},"y2":{"field":"y2"},"color":{"field":"ch","type":"nominal","scale":{"domain":["k","g","c2","c3","or","b2","b3","m2","m3","w2","w3"],"range":["#222222","#8c8c8c","#3ccfe0","#9a2f9a","#e8a23a","#20c4d4","#7a1f7a","#3e9e9e","#c48ac4","#12e2ee","#ff12ff"]}}}},
{"data":{"name":"tr"},"transform":[{"filter":"datum.p=='14'"}],"mark":{"type":"line","strokeWidth":1.2},"encoding":{"x":{"field":"x","type":"quantitative"},"y":{"field":"y","type":"quantitative"},"detail":{"field":"ch"},"order":{"field":"i","type":"quantitative"},"color":{"field":"ch","type":"nominal","scale":{"domain":["k","g","c2","c3","or","b2","b3","m2","m3","w2","w3"],"range":["#222222","#8c8c8c","#3ccfe0","#9a2f9a","#e8a23a","#20c4d4","#7a1f7a","#3e9e9e","#c48ac4","#12e2ee","#ff12ff"]}}}},
{"data":{"name":"tbar"},"mark":{"type":"rect","fill":"#ffffff","stroke":"#333333","strokeWidth":1},"encoding":{"x":{"field":"x","type":"quantitative"},"x2":{"field":"x2"},"y":{"field":"y","type":"quantitative"},"y2":{"field":"y2"}}},
{"data":{"values":[{}]},"mark":{"type":"rule","color":"#c88ad0","strokeWidth":2},"encoding":{"x":{"datum":2.86},"x2":{"datum":7.16},"y":{"datum":4.18}}},
{"data":{"values":[{}]},"mark":{"type":"rule","color":"#f0a030","strokeWidth":2},"encoding":{"x":{"datum":5},"y":{"datum":4.05},"y2":{"datum":4.33}}},
{"data":{"values":[{}]},"mark":{"type":"point","shape":"square","filled":true,"size":120,"color":"#f0a030","opacity":1},"encoding":{"x":{"datum":5},"y":{"datum":3.76}}},
{"data":{"values":[{}]},"mark":{"type":"text","text":"T","color":"#ffffff","fontWeight":"bold","fontSize":10,"font":"Liberation Sans","align":"center","baseline":"middle"},"encoding":{"x":{"datum":5},"y":{"datum":3.76}}},
{"data":{"name":"mk"},"mark":{"type":"point","shape":"square","filled":true,"size":110,"opacity":1},"encoding":{"x":{"field":"x","type":"quantitative"},"y":{"field":"y","type":"quantitative"},"color":{"field":"c","type":"nominal","scale":{"domain":["k","g","c2","c3","or","b2","b3","m2","m3","w2","w3"],"range":["#222222","#8c8c8c","#3ccfe0","#9a2f9a","#e8a23a","#20c4d4","#7a1f7a","#3e9e9e","#c48ac4","#12e2ee","#ff12ff"]}}}},
{"data":{"name":"mk"},"mark":{"type":"point","shape":"triangle-right","filled":true,"size":50,"opacity":1},"encoding":{"x":{"field":"xa","type":"quantitative"},"y":{"field":"y","type":"quantitative"},"color":{"field":"c","type":"nominal","scale":{"domain":["k","g","c2","c3","or","b2","b3","m2","m3","w2","w3"],"range":["#222222","#8c8c8c","#3ccfe0","#9a2f9a","#e8a23a","#20c4d4","#7a1f7a","#3e9e9e","#c48ac4","#12e2ee","#ff12ff"]}}}},
{"data":{"name":"mk"},"mark":{"type":"text","color":"#ffffff","fontWeight":"bold","fontSize":10,"font":"Liberation Sans","align":"center","baseline":"middle"},"encoding":{"x":{"field":"x","type":"quantitative"},"y":{"field":"y","type":"quantitative"},"text":{"field":"t"}}},
{"data":{"values":[{}]},"mark":{"type":"point","shape":"triangle-left","filled":true,"size":50,"color":"#20c4d4","opacity":1},"encoding":{"x":{"datum":9.95},"y":{"datum":1.28}}},
{"data":{"name":"boxes"},"mark":{"type":"rect","fill":"#ffffff","stroke":"#555555","strokeWidth":1,"cornerRadius":5},"encoding":{"x":{"field":"x","type":"quantitative"},"x2":{"field":"x2"},"y":{"field":"y","type":"quantitative"},"y2":{"field":"y2"}}},
{"data":{"name":"badges"},"mark":{"type":"point","shape":"circle","filled":true,"size":130,"opacity":1},"encoding":{"x":{"field":"x","type":"quantitative"},"y":{"field":"y","type":"quantitative"},"color":{"field":"c","type":"nominal","scale":{"domain":["k","g","c2","c3","or","b2","b3","m2","m3","w2","w3"],"range":["#222222","#8c8c8c","#3ccfe0","#9a2f9a","#e8a23a","#20c4d4","#7a1f7a","#3e9e9e","#c48ac4","#12e2ee","#ff12ff"]}}}},
{"data":{"name":"badges"},"mark":{"type":"text","color":"#ffffff","fontSize":10,"font":"Liberation Sans","align":"center","baseline":"middle"},"encoding":{"x":{"field":"x","type":"quantitative"},"y":{"field":"y","type":"quantitative"},"text":{"field":"t"}}},
{"data":{"values":[{}]},"mark":{"type":"point","shape":"square","filled":true,"size":45,"color":"#f0a030","opacity":1},"encoding":{"x":{"datum":4.43},"y":{"datum":-3.9}}},
{"data":{"name":"tx"},"transform":[{"filter":"(datum.p=='all'||datum.p=='14')&&datum.r=='h'"}],"mark":{"type":"text","font":"Liberation Sans Narrow, Liberation Sans, Noto Sans CJK SC, sans-serif","fontSize":13,"align":"left","baseline":"middle"},"encoding":{"x":{"field":"x","type":"quantitative"},"y":{"field":"y","type":"quantitative"},"text":{"field":"t"},"color":{"field":"c","type":"nominal","scale":{"domain":["k","g","c2","c3","or","b2","b3","m2","m3","w2","w3"],"range":["#222222","#8c8c8c","#3ccfe0","#9a2f9a","#e8a23a","#20c4d4","#7a1f7a","#3e9e9e","#c48ac4","#12e2ee","#ff12ff"]}}}},
{"data":{"name":"tx"},"transform":[{"filter":"(datum.p=='all'||datum.p=='14')&&datum.r=='v'"}],"mark":{"type":"text","font":"Liberation Sans Narrow, Liberation Sans, Noto Sans CJK SC, sans-serif","fontSize":11,"align":"left","baseline":"middle"},"encoding":{"x":{"field":"x","type":"quantitative"},"y":{"field":"y","type":"quantitative"},"text":{"field":"t"},"color":{"field":"c","type":"nominal","scale":{"domain":["k","g","c2","c3","or","b2","b3","m2","m3","w2","w3"],"range":["#222222","#8c8c8c","#3ccfe0","#9a2f9a","#e8a23a","#20c4d4","#7a1f7a","#3e9e9e","#c48ac4","#12e2ee","#ff12ff"]}}}},
{"data":{"name":"tx"},"transform":[{"filter":"(datum.p=='all'||datum.p=='14')&&datum.r=='s'"}],"mark":{"type":"text","font":"Liberation Sans","fontSize":8,"align":"left","baseline":"middle"},"encoding":{"x":{"field":"x","type":"quantitative"},"y":{"field":"y","type":"quantitative"},"text":{"field":"t"},"color":{"field":"c","type":"nominal","scale":{"domain":["k","g","c2","c3","or","b2","b3","m2","m3","w2","w3"],"range":["#222222","#8c8c8c","#3ccfe0","#9a2f9a","#e8a23a","#20c4d4","#7a1f7a","#3e9e9e","#c48ac4","#12e2ee","#ff12ff"]}}}},
{"data":{"name":"tx"},"transform":[{"filter":"(datum.p=='all'||datum.p=='14')&&datum.r=='tek'"}],"mark":{"type":"text","font":"Liberation Sans","fontSize":13,"fontWeight":"bold","align":"left","baseline":"middle","color":"#111111"},"encoding":{"x":{"field":"x","type":"quantitative"},"y":{"field":"y","type":"quantitative"},"text":{"field":"t"}}},
{"data":{"name":"tx"},"transform":[{"filter":"(datum.p=='all'||datum.p=='14')&&datum.r=='t'"}],"mark":{"type":"text","font":"Liberation Mono, Noto Sans CJK SC, monospace","fontSize":20.5,"align":"left","baseline":"middle","color":"#111111"},"encoding":{"x":{"field":"x","type":"quantitative"},"y":{"field":"y","type":"quantitative"},"text":{"field":"t"}}},
{"data":{"name":"tx"},"transform":[{"filter":"(datum.p=='all'||datum.p=='14')&&datum.r=='tr'"}],"mark":{"type":"text","font":"Liberation Mono, Noto Sans CJK SC, monospace","fontSize":19,"align":"right","baseline":"middle","color":"#111111"},"encoding":{"x":{"field":"x","type":"quantitative"},"y":{"field":"y","type":"quantitative"},"text":{"field":"t"}}}
]},
{"width":642,"height":461,"layer":[
{"data":{"name":"vg"},"mark":{"type":"rule","color":"#9a9a9a","strokeDash":[1,4]},"encoding":{"x":{"field":"x","type":"quantitative","scale":{"domain":[-0.51,10.39],"nice":false,"zero":false}},"y":{"datum":-4,"scale":{"domain":[-5.79,6.03],"nice":false,"zero":false}},"y2":{"datum":4}}},
{"data":{"name":"hg"},"mark":{"type":"rule","color":"#9a9a9a","strokeDash":[1,4]},"encoding":{"y":{"field":"y","type":"quantitative"},"x":{"datum":0},"x2":{"datum":10}}},
{"data":{"name":"xt"},"mark":{"type":"rule","color":"#555555"},"encoding":{"x":{"field":"t","type":"quantitative"},"y":{"datum":-0.08},"y2":{"datum":0.08}}},
{"data":{"name":"yt"},"mark":{"type":"rule","color":"#555555"},"encoding":{"y":{"field":"t","type":"quantitative"},"x":{"datum":4.93},"x2":{"datum":5.07}}},
{"data":{"values":[{}]},"mark":{"type":"rule","color":"#555555"},"encoding":{"x":{"datum":5},"y":{"datum":-4},"y2":{"datum":4}}},
{"data":{"values":[{}]},"mark":{"type":"rule","color":"#555555"},"encoding":{"y":{"datum":0},"x":{"datum":0},"x2":{"datum":10}}},
{"data":{"values":[{}]},"mark":{"type":"rect","fillOpacity":0,"stroke":"#777777","strokeWidth":1},"encoding":{"x":{"datum":0},"x2":{"datum":10},"y":{"datum":-4},"y2":{"datum":4}}},
{"data":{"values":[{}]},"mark":{"type":"rule","color":"#333333","strokeWidth":1.5},"encoding":{"y":{"datum":4.92},"x":{"datum":-0.51},"x2":{"datum":10.39}}},
{"data":{"name":"bands"},"transform":[{"filter":"datum.p=='15'"}],"mark":{"type":"rect"},"encoding":{"x":{"field":"x","type":"quantitative"},"x2":{"field":"x2"},"y":{"field":"y","type":"quantitative"},"y2":{"field":"y2"},"color":{"field":"ch","type":"nominal","scale":{"domain":["k","g","c2","c3","or","b2","b3","m2","m3","w2","w3"],"range":["#222222","#8c8c8c","#3ccfe0","#9a2f9a","#e8a23a","#20c4d4","#7a1f7a","#3e9e9e","#c48ac4","#12e2ee","#ff12ff"]}}}},
{"data":{"name":"tr"},"transform":[{"filter":"datum.p=='15'"}],"mark":{"type":"line","strokeWidth":1.2},"encoding":{"x":{"field":"x","type":"quantitative"},"y":{"field":"y","type":"quantitative"},"detail":{"field":"ch"},"order":{"field":"i","type":"quantitative"},"color":{"field":"ch","type":"nominal","scale":{"domain":["k","g","c2","c3","or","b2","b3","m2","m3","w2","w3"],"range":["#222222","#8c8c8c","#3ccfe0","#9a2f9a","#e8a23a","#20c4d4","#7a1f7a","#3e9e9e","#c48ac4","#12e2ee","#ff12ff"]}}}},
{"data":{"name":"tbar"},"mark":{"type":"rect","fill":"#ffffff","stroke":"#333333","strokeWidth":1},"encoding":{"x":{"field":"x","type":"quantitative"},"x2":{"field":"x2"},"y":{"field":"y","type":"quantitative"},"y2":{"field":"y2"}}},
{"data":{"values":[{}]},"mark":{"type":"rule","color":"#c88ad0","strokeWidth":2},"encoding":{"x":{"datum":2.86},"x2":{"datum":7.16},"y":{"datum":4.18}}},
{"data":{"values":[{}]},"mark":{"type":"rule","color":"#f0a030","strokeWidth":2},"encoding":{"x":{"datum":5},"y":{"datum":4.05},"y2":{"datum":4.33}}},
{"data":{"values":[{}]},"mark":{"type":"point","shape":"square","filled":true,"size":120,"color":"#f0a030","opacity":1},"encoding":{"x":{"datum":5},"y":{"datum":3.76}}},
{"data":{"values":[{}]},"mark":{"type":"text","text":"T","color":"#ffffff","fontWeight":"bold","fontSize":10,"font":"Liberation Sans","align":"center","baseline":"middle"},"encoding":{"x":{"datum":5},"y":{"datum":3.76}}},
{"data":{"name":"mk"},"mark":{"type":"point","shape":"square","filled":true,"size":110,"opacity":1},"encoding":{"x":{"field":"x","type":"quantitative"},"y":{"field":"y","type":"quantitative"},"color":{"field":"c","type":"nominal","scale":{"domain":["k","g","c2","c3","or","b2","b3","m2","m3","w2","w3"],"range":["#222222","#8c8c8c","#3ccfe0","#9a2f9a","#e8a23a","#20c4d4","#7a1f7a","#3e9e9e","#c48ac4","#12e2ee","#ff12ff"]}}}},
{"data":{"name":"mk"},"mark":{"type":"point","shape":"triangle-right","filled":true,"size":50,"opacity":1},"encoding":{"x":{"field":"xa","type":"quantitative"},"y":{"field":"y","type":"quantitative"},"color":{"field":"c","type":"nominal","scale":{"domain":["k","g","c2","c3","or","b2","b3","m2","m3","w2","w3"],"range":["#222222","#8c8c8c","#3ccfe0","#9a2f9a","#e8a23a","#20c4d4","#7a1f7a","#3e9e9e","#c48ac4","#12e2ee","#ff12ff"]}}}},
{"data":{"name":"mk"},"mark":{"type":"text","color":"#ffffff","fontWeight":"bold","fontSize":10,"font":"Liberation Sans","align":"center","baseline":"middle"},"encoding":{"x":{"field":"x","type":"quantitative"},"y":{"field":"y","type":"quantitative"},"text":{"field":"t"}}},
{"data":{"values":[{}]},"mark":{"type":"point","shape":"triangle-left","filled":true,"size":50,"color":"#20c4d4","opacity":1},"encoding":{"x":{"datum":9.95},"y":{"datum":1.28}}},
{"data":{"name":"boxes"},"mark":{"type":"rect","fill":"#ffffff","stroke":"#555555","strokeWidth":1,"cornerRadius":5},"encoding":{"x":{"field":"x","type":"quantitative"},"x2":{"field":"x2"},"y":{"field":"y","type":"quantitative"},"y2":{"field":"y2"}}},
{"data":{"name":"badges"},"mark":{"type":"point","shape":"circle","filled":true,"size":130,"opacity":1},"encoding":{"x":{"field":"x","type":"quantitative"},"y":{"field":"y","type":"quantitative"},"color":{"field":"c","type":"nominal","scale":{"domain":["k","g","c2","c3","or","b2","b3","m2","m3","w2","w3"],"range":["#222222","#8c8c8c","#3ccfe0","#9a2f9a","#e8a23a","#20c4d4","#7a1f7a","#3e9e9e","#c48ac4","#12e2ee","#ff12ff"]}}}},
{"data":{"name":"badges"},"mark":{"type":"text","color":"#ffffff","fontSize":10,"font":"Liberation Sans","align":"center","baseline":"middle"},"encoding":{"x":{"field":"x","type":"quantitative"},"y":{"field":"y","type":"quantitative"},"text":{"field":"t"}}},
{"data":{"values":[{}]},"mark":{"type":"point","shape":"square","filled":true,"size":45,"color":"#f0a030","opacity":1},"encoding":{"x":{"datum":4.43},"y":{"datum":-3.9}}},
{"data":{"name":"tx"},"transform":[{"filter":"(datum.p=='all'||datum.p=='15')&&datum.r=='h'"}],"mark":{"type":"text","font":"Liberation Sans Narrow, Liberation Sans, Noto Sans CJK SC, sans-serif","fontSize":13,"align":"left","baseline":"middle"},"encoding":{"x":{"field":"x","type":"quantitative"},"y":{"field":"y","type":"quantitative"},"text":{"field":"t"},"color":{"field":"c","type":"nominal","scale":{"domain":["k","g","c2","c3","or","b2","b3","m2","m3","w2","w3"],"range":["#222222","#8c8c8c","#3ccfe0","#9a2f9a","#e8a23a","#20c4d4","#7a1f7a","#3e9e9e","#c48ac4","#12e2ee","#ff12ff"]}}}},
{"data":{"name":"tx"},"transform":[{"filter":"(datum.p=='all'||datum.p=='15')&&datum.r=='v'"}],"mark":{"type":"text","font":"Liberation Sans Narrow, Liberation Sans, Noto Sans CJK SC, sans-serif","fontSize":11,"align":"left","baseline":"middle"},"encoding":{"x":{"field":"x","type":"quantitative"},"y":{"field":"y","type":"quantitative"},"text":{"field":"t"},"color":{"field":"c","type":"nominal","scale":{"domain":["k","g","c2","c3","or","b2","b3","m2","m3","w2","w3"],"range":["#222222","#8c8c8c","#3ccfe0","#9a2f9a","#e8a23a","#20c4d4","#7a1f7a","#3e9e9e","#c48ac4","#12e2ee","#ff12ff"]}}}},
{"data":{"name":"tx"},"transform":[{"filter":"(datum.p=='all'||datum.p=='15')&&datum.r=='s'"}],"mark":{"type":"text","font":"Liberation Sans","fontSize":8,"align":"left","baseline":"middle"},"encoding":{"x":{"field":"x","type":"quantitative"},"y":{"field":"y","type":"quantitative"},"text":{"field":"t"},"color":{"field":"c","type":"nominal","scale":{"domain":["k","g","c2","c3","or","b2","b3","m2","m3","w2","w3"],"range":["#222222","#8c8c8c","#3ccfe0","#9a2f9a","#e8a23a","#20c4d4","#7a1f7a","#3e9e9e","#c48ac4","#12e2ee","#ff12ff"]}}}},
{"data":{"name":"tx"},"transform":[{"filter":"(datum.p=='all'||datum.p=='15')&&datum.r=='tek'"}],"mark":{"type":"text","font":"Liberation Sans","fontSize":13,"fontWeight":"bold","align":"left","baseline":"middle","color":"#111111"},"encoding":{"x":{"field":"x","type":"quantitative"},"y":{"field":"y","type":"quantitative"},"text":{"field":"t"}}},
{"data":{"name":"tx"},"transform":[{"filter":"(datum.p=='all'||datum.p=='15')&&datum.r=='t'"}],"mark":{"type":"text","font":"Liberation Mono, Noto Sans CJK SC, monospace","fontSize":20.5,"align":"left","baseline":"middle","color":"#111111"},"encoding":{"x":{"field":"x","type":"quantitative"},"y":{"field":"y","type":"quantitative"},"text":{"field":"t"}}},
{"data":{"name":"tx"},"transform":[{"filter":"(datum.p=='all'||datum.p=='15')&&datum.r=='tr'"}],"mark":{"type":"text","font":"Liberation Mono, Noto Sans CJK SC, monospace","fontSize":19,"align":"right","baseline":"middle","color":"#111111"},"encoding":{"x":{"field":"x","type":"quantitative"},"y":{"field":"y","type":"quantitative"},"text":{"field":"t"}}}
]}
]}
]
}
